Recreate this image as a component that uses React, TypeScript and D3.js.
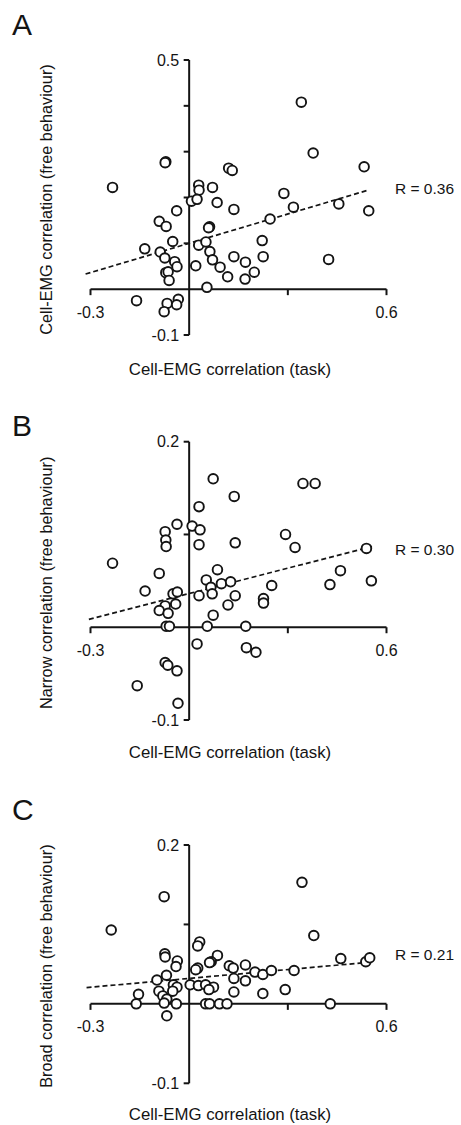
import React from "react";
import * as d3 from "d3";

// ---------- data ----------
const taskA = [0.341,0.377,0.532,-0.071,-0.073,0.120,0.131,-0.233,0.029,0.030,0.071,0.007,0.024,0.085,-0.038,0.136,0.288,0.317,0.455,0.546,-0.091,-0.070,0.062,0.059,0.246,-0.050,0.029,0.051,0.222,-0.135,-0.088,-0.074,-0.044,-0.037,0.063,0.071,0.136,0.171,0.225,0.424,0.020,0.094,0.198,0.117,0.170,-0.071,-0.064,-0.061,0.054,-0.160,-0.067,-0.033,-0.038,-0.076];
const freeA = [0.408,0.297,0.267,0.278,0.276,0.264,0.259,0.222,0.227,0.216,0.222,0.192,0.196,0.189,0.171,0.174,0.209,0.179,0.186,0.171,0.148,0.137,0.136,0.134,0.153,0.104,0.096,0.103,0.106,0.088,0.081,0.068,0.060,0.049,0.082,0.064,0.071,0.059,0.071,0.065,0.051,0.048,0.037,0.027,0.022,0.036,0.038,0.019,0.004,-0.025,-0.031,-0.022,-0.034,-0.049];

const taskB = [0.073,0.346,0.383,0.137,0.030,-0.037,0.009,0.033,-0.073,-0.071,-0.070,0.030,0.140,0.293,0.322,0.539,-0.233,-0.091,0.086,0.052,0.066,0.098,0.126,0.460,0.428,0.554,0.251,-0.134,-0.049,-0.036,0.070,0.030,0.140,0.226,0.226,0.118,-0.041,-0.073,-0.091,-0.064,0.073,-0.070,-0.060,0.055,0.172,0.024,0.174,0.203,-0.073,-0.065,-0.037,-0.158,-0.034];
const narrowB = [0.160,0.155,0.155,0.141,0.130,0.111,0.109,0.105,0.103,0.094,0.087,0.089,0.091,0.100,0.086,0.085,0.069,0.058,0.062,0.051,0.043,0.047,0.049,0.061,0.046,0.050,0.045,0.039,0.036,0.038,0.036,0.034,0.034,0.031,0.026,0.024,0.025,0.023,0.018,0.015,0.013,0.001,0.001,0.001,0.001,-0.018,-0.022,-0.027,-0.038,-0.041,-0.047,-0.063,-0.082];

const taskC = [0.343,-0.076,-0.237,0.379,0.032,0.026,-0.074,-0.073,-0.036,-0.040,0.086,0.067,0.062,0.026,0.020,0.122,0.134,0.171,0.461,0.537,0.549,0.200,0.224,0.250,0.319,-0.069,-0.098,0.136,0.171,-0.048,-0.037,0.003,0.028,0.050,0.074,0.060,-0.050,-0.092,-0.080,-0.068,-0.076,-0.154,0.136,0.224,0.292,-0.161,-0.039,0.050,0.062,0.092,0.115,0.429,-0.068];
const broadC = [0.153,0.135,0.093,0.086,0.078,0.073,0.063,0.059,0.054,0.047,0.061,0.053,0.052,0.045,0.043,0.048,0.045,0.049,0.057,0.053,0.058,0.040,0.037,0.042,0.042,0.036,0.030,0.032,0.029,0.024,0.021,0.024,0.023,0.024,0.021,0.018,0.016,0.016,0.010,0.006,0.001,0.012,0.015,0.013,0.018,0.000,0.000,0.000,0.000,0.000,0.000,0.000,-0.015];

// regression lines (x endpoints, y endpoints)
const fitAX = [-0.315, 0.544];
const fitAY = [0.033, 0.216];
const fitBX = [-0.305, 0.556];
const fitBY = [0.0085, 0.087];
const fitCX = [-0.312, 0.538];
const fitCY = [0.0205, 0.052];

const xTicks = [-0.3, 0, 0.3, 0.6];
const xTickLabels = ["-0.3", "", "", "0.6"];
const yTicksA = [-0.1, 0, 0.1, 0.2, 0.3, 0.4, 0.5];
const yTickLabelsA = ["-0.1", "", "", "", "", "", "0.5"];
const yTicksBC = [-0.1, 0, 0.1, 0.2];
const yTickLabelsBC = ["-0.1", "", "", "0.2"];

const letters = ["A", "B", "C"];
const xTitle = "Cell-EMG correlation (task)";
const yTitles = [
  "Cell-EMG correlation (free behaviour)",
  "Narrow correlation (free behaviour)",
  "Broad correlation (free behaviour)",
];
const rLabels = ["R = 0.36", "R = 0.30", "R = 0.21"];

const FONT = "'Liberation Sans', Arial, Helvetica, sans-serif";
const INK = "#141414";

type PanelProps = {
  letter: string;
  yTitle: string;
  rLabel: string;
  xs: number[];
  ys: number[];
  fitX: number[];
  fitY: number[];
  yTicks: number[];
  yTickLabels: string[];
  yTop: number;
  yBottom: number;
  letterY: number;
  xTitleY: number;
  rY: number;
};

function Panel(p: PanelProps) {
  const x = d3.scaleLinear().domain([-0.3, 0.6]).range([90.5, 386.5]);
  const yMin = p.yTicks[0];
  const yMax = p.yTicks[p.yTicks.length - 1];
  const y = d3.scaleLinear().domain([yMin, yMax]).range([p.yBottom, p.yTop]);
  const x0 = x(0);
  const y0 = y(0);
  const line = d3
    .line<[number, number]>()
    .x((d) => x(d[0]))
    .y((d) => y(d[1]));
  const fitPts: [number, number][] = p.fitX.map((v, i) => [v, p.fitY[i]]);
  const yMid = (p.yTop + p.yBottom) / 2 + 2;
  return (
    <g>
      <text x={12} y={p.letterY} fontFamily={FONT} fontSize={30} fill={INK}>
        {p.letter}
      </text>
      <text
        transform={`translate(52,${yMid}) rotate(-90)`}
        textAnchor="middle"
        fontFamily={FONT}
        fontSize={16.3}
        fill={INK}
      >
        {p.yTitle}
      </text>
      <text x={230} y={p.xTitleY} textAnchor="middle" fontFamily={FONT} fontSize={16.8} fill={INK}>
        {xTitle}
      </text>
      <path d={line(fitPts) || ""} fill="none" stroke={INK} strokeWidth={1.7} strokeDasharray="5,3" />
      <line x1={x(-0.3)} x2={x(0.6)} y1={y0} y2={y0} stroke={INK} strokeWidth={2} />
      <line x1={x0} x2={x0} y1={y(yMin)} y2={y(yMax)} stroke={INK} strokeWidth={2} />
      {xTicks.map((t, i) => (
        <g key={"xt" + i}>
          {t !== 0 && <line x1={x(t)} x2={x(t)} y1={y0} y2={y0 + 6} stroke={INK} strokeWidth={2} />}
          {xTickLabels[i] && (
            <text x={x(t)} y={y0 + 28.5} textAnchor="middle" fontFamily={FONT} fontSize={16} fill={INK}>
              {xTickLabels[i]}
            </text>
          )}
        </g>
      ))}
      {p.yTicks.map((t, i) => (
        <g key={"yt" + i}>
          {t !== 0 && <line x1={x0 - 5.5} x2={x0} y1={y(t)} y2={y(t)} stroke={INK} strokeWidth={2} />}
          {p.yTickLabels[i] && (
            <text x={x0 - 10} y={y(t)} dy="0.35em" textAnchor="end" fontFamily={FONT} fontSize={16} fill={INK}>
              {p.yTickLabels[i]}
            </text>
          )}
        </g>
      ))}
      {p.xs.map((v, i) => (
        <circle key={"c" + i} cx={x(v)} cy={y(p.ys[i])} r={4.8} fill="white" stroke={INK} strokeWidth={1.9} />
      ))}
      <text x={395} y={p.rY} fontFamily={FONT} fontSize={15.5} fill={INK}>
        {p.rLabel}
      </text>
    </g>
  );
}

export default function App() {
  return (
    <svg
      width={461}
      height={1125}
      style={{ position: "absolute", left: 0, top: 0, background: "white" }}
    >
      <rect width={461} height={1125} fill="white" />
      <Panel
        letter={letters[0]}
        yTitle={yTitles[0]}
        rLabel={rLabels[0]}
        xs={taskA}
        ys={freeA}
        fitX={fitAX}
        fitY={fitAY}
        yTicks={yTicksA}
        yTickLabels={yTickLabelsA}
        yTop={60}
        yBottom={335}
        letterY={35}
        xTitleY={375}
        rY={194}
      />
      <Panel
        letter={letters[1]}
        yTitle={yTitles[1]}
        rLabel={rLabels[1]}
        xs={taskB}
        ys={narrowB}
        fitX={fitBX}
        fitY={fitBY}
        yTicks={yTicksBC}
        yTickLabels={yTickLabelsBC}
        yTop={441.7}
        yBottom={720}
        letterY={435.5}
        xTitleY={758}
        rY={555}
      />
      <Panel
        letter={letters[2]}
        yTitle={yTitles[2]}
        rLabel={rLabels[2]}
        xs={taskC}
        ys={broadC}
        fitX={fitCX}
        fitY={fitCY}
        yTicks={yTicksBC}
        yTickLabels={yTickLabelsBC}
        yTop={845}
        yBottom={1083.3}
        letterY={819.5}
        xTitleY={1120}
        rY={960}
      />
    </svg>
  );
}
